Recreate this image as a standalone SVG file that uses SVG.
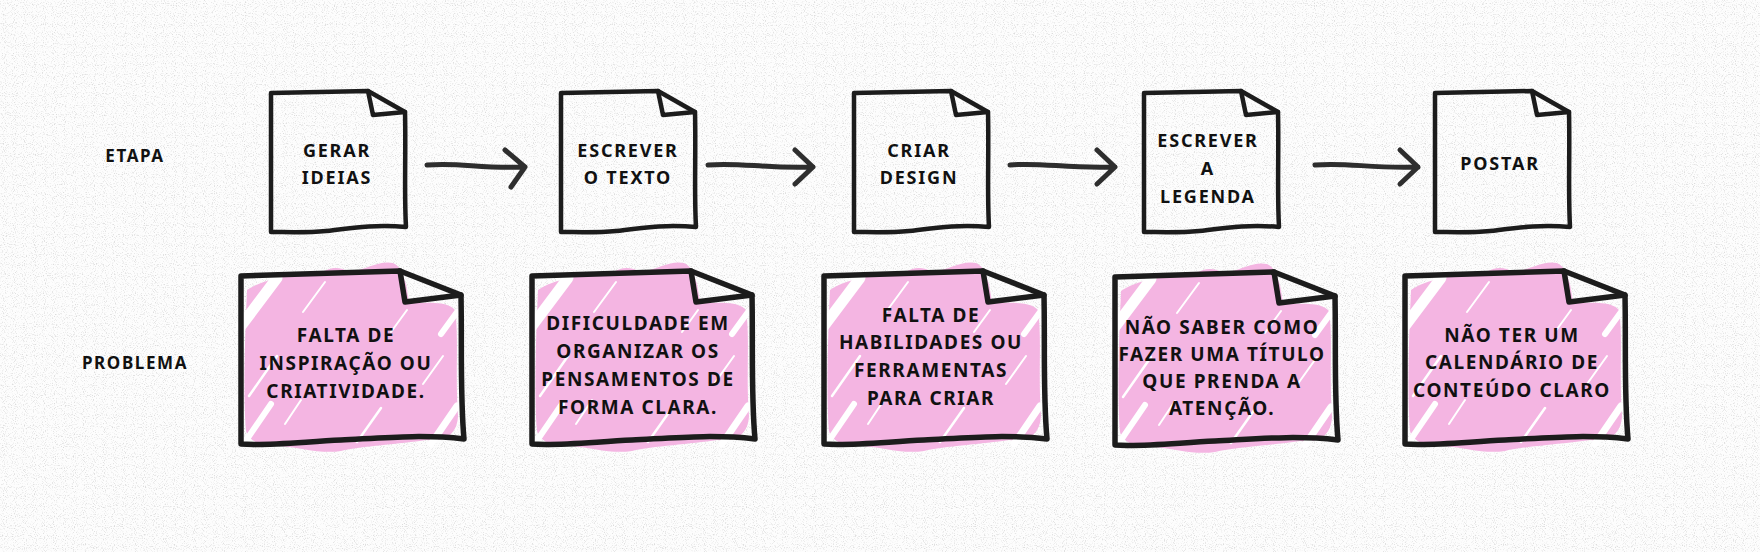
<svg xmlns="http://www.w3.org/2000/svg" xmlns:xlink="http://www.w3.org/1999/xlink" width="1760" height="552" viewBox="0 0 1760 552">
  <style>
    .lbl { font-family: "Noto Sans", "Liberation Sans", sans-serif; font-weight: 700; fill: #111; text-anchor: middle; }
    .row { font-size: 17px; letter-spacing: 1.6px; }
    .top { font-size: 18px; letter-spacing: 1.8px; }
    .bot { font-size: 19px; letter-spacing: 1.6px; }
    .sheet { fill: none; stroke: #1c1c1c; stroke-linejoin: round; stroke-linecap: round; }
    .sheetT { stroke-width: 4.5; }
    .sheetB { stroke-width: 5.5; }
    .conn { fill: none; stroke: #2e2e2e; stroke-width: 5; stroke-linecap: round; stroke-linejoin: round; }
    .streak { stroke: #ffffff; stroke-linecap: round; fill: none; }
  </style>
  <defs>
    <filter id="grain" x="0" y="0" width="100%" height="100%">
      <feTurbulence type="fractalNoise" baseFrequency="0.9" numOctaves="1" seed="7" stitchTiles="stitch"/>
      <feColorMatrix type="matrix" values="0 0 0 0 0.5  0 0 0 0 0.5  0 0 0 0 0.5  4 0 0 0 -2.1"/>
    </filter>
    <!-- top sheet outline, origin = top-left corner -->
    <g id="sheetTop" class="sheet sheetT">
      <path d="M0,0 L97,-2 L134,19 C135,60 133,100 135,134 C105,131 80,135 55,138 C35,140 15,139 0,139 Z"/>
      <path d="M97,-2 L102,22 L134,19"/>
    </g>
    <!-- bottom sheet outline -->
    <g id="sheetBot" class="sheet sheetB">
      <path d="M0,0 L159,-5 L220,19 C221,70 219,120 223,163 C180,158 140,162 100,164 C60,166 25,170 0,168 Z"/>
      <path d="M159,-5 L164,26 L220,19"/>
    </g>
    <!-- pink scribble fill -->
    <g id="scribble">
      <path fill="#f4b5e2" d="M6,14 C20,4 50,-2 80,-3 C90,-10 100,-9 108,-4 C125,-6 138,-16 152,-13 C160,-10 162,0 165,8 L168,26 C185,28 205,24 214,34 C218,60 214,100 217,140 C216,158 205,166 185,164 C160,168 120,170 100,175 C80,178 60,172 40,170 C20,170 8,166 5,155 C2,120 4,60 6,14 Z"/>
      <g class="streak">
        <path d="M0,50 L36,2" stroke-width="11"/>
        <path d="M8,120 L36,80" stroke-width="2.5"/>
        <path d="M4,166 L30,128" stroke-width="6"/>
        <path d="M62,36 L84,6" stroke-width="2"/>
        <path d="M116,166 L140,132" stroke-width="2.5"/>
        <path d="M182,108 L202,80" stroke-width="2"/>
        <path d="M190,168 L216,130" stroke-width="7"/>
        <path d="M150,56 L166,34" stroke-width="2"/>
        <path d="M44,148 L60,124" stroke-width="2"/>
        <path d="M200,58 L216,36" stroke-width="6"/>
      </g>
    </g>
  </defs>

  <rect x="0" y="0" width="1760" height="552" fill="#fdfdfd"/>
  <rect x="0" y="0" width="1760" height="552" filter="url(#grain)" opacity="0.5"/>

  <!-- row labels -->
  <g id="label-etapa"><text class="lbl row" x="135" y="162">ETAPA</text></g>
  <g id="label-problema"><text class="lbl row" x="135" y="369">PROBLEMA</text></g>

  <!-- connectors -->
  <g id="connectors">
    <path class="conn" d="M427,165 C460,162 480,169 525,167 M505,150 L525,167 L511,187"/>
    <path class="conn" d="M708,165 C740,162 765,169 813,167 M795,150 L813,167 L795,184"/>
    <path class="conn" d="M1010,165 C1042,162 1067,169 1115,167 M1097,150 L1115,167 L1097,184"/>
    <path class="conn" d="M1315,165 C1347,162 1372,169 1418,167 M1400,150 L1418,167 L1400,184"/>
  </g>

  <!-- top row: steps -->
  <g id="step-1">
    <use xlink:href="#sheetTop" x="271" y="93"/>
    <text class="lbl top" x="337" y="157">GERAR</text>
    <text class="lbl top" x="337" y="184">IDEIAS</text>
  </g>
  <g id="step-2">
    <use xlink:href="#sheetTop" x="561" y="93"/>
    <text class="lbl top" x="628" y="157">ESCREVER</text>
    <text class="lbl top" x="628" y="184">O TEXTO</text>
  </g>
  <g id="step-3">
    <use xlink:href="#sheetTop" x="854" y="93"/>
    <text class="lbl top" x="919" y="157">CRIAR</text>
    <text class="lbl top" x="919" y="184">DESIGN</text>
  </g>
  <g id="step-4">
    <use xlink:href="#sheetTop" x="1144" y="93"/>
    <text class="lbl top" x="1208" y="147">ESCREVER</text>
    <text class="lbl top" x="1208" y="175">A</text>
    <text class="lbl top" x="1208" y="203">LEGENDA</text>
  </g>
  <g id="step-5">
    <use xlink:href="#sheetTop" x="1435" y="93"/>
    <text class="lbl top" x="1500" y="170">POSTAR</text>
  </g>

  <!-- bottom row: problems -->
  <g id="problem-1">
    <use xlink:href="#scribble" x="241" y="276"/>
    <use xlink:href="#sheetBot" x="241" y="276"/>
    <text class="lbl bot" x="346" y="342">FALTA DE</text>
    <text class="lbl bot" x="346" y="370">INSPIRAÇÃO OU</text>
    <text class="lbl bot" x="346" y="398">CRIATIVIDADE.</text>
  </g>
  <g id="problem-2">
    <use xlink:href="#scribble" x="532" y="276"/>
    <use xlink:href="#sheetBot" x="532" y="276"/>
    <text class="lbl bot" x="638" y="330">DIFICULDADE EM</text>
    <text class="lbl bot" x="638" y="358">ORGANIZAR OS</text>
    <text class="lbl bot" x="638" y="386">PENSAMENTOS DE</text>
    <text class="lbl bot" x="638" y="414">FORMA CLARA.</text>
  </g>
  <g id="problem-3">
    <use xlink:href="#scribble" x="824" y="276"/>
    <use xlink:href="#sheetBot" x="824" y="276"/>
    <text class="lbl bot" x="931" y="322">FALTA DE</text>
    <text class="lbl bot" x="931" y="349">HABILIDADES OU</text>
    <text class="lbl bot" x="931" y="377">FERRAMENTAS</text>
    <text class="lbl bot" x="931" y="405">PARA CRIAR</text>
  </g>
  <g id="problem-4">
    <use xlink:href="#scribble" x="1115" y="277"/>
    <use xlink:href="#sheetBot" x="1115" y="277"/>
    <text class="lbl bot" x="1222" y="334">NÃO SABER COMO</text>
    <text class="lbl bot" x="1222" y="361">FAZER UMA TÍTULO</text>
    <text class="lbl bot" x="1222" y="388">QUE PRENDA A</text>
    <text class="lbl bot" x="1222" y="415">ATENÇÃO.</text>
  </g>
  <g id="problem-5">
    <use xlink:href="#scribble" x="1405" y="276"/>
    <use xlink:href="#sheetBot" x="1405" y="276"/>
    <text class="lbl bot" x="1512" y="342">NÃO TER UM</text>
    <text class="lbl bot" x="1512" y="369">CALENDÁRIO DE</text>
    <text class="lbl bot" x="1512" y="397">CONTEÚDO CLARO</text>
  </g>
</svg>
